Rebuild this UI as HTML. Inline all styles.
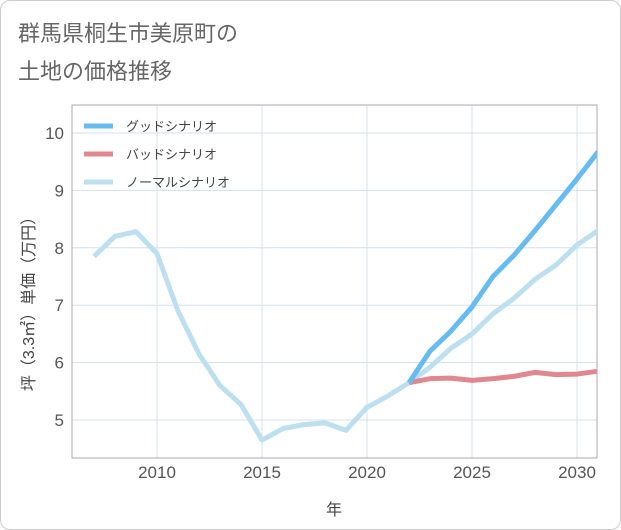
<!DOCTYPE html>
<html><head><meta charset="utf-8"><style>
body{margin:0;background:#fff;}
#card{position:absolute;left:0;top:0;width:619px;height:528px;border:1px solid #ccc;border-radius:10px;background:#fff;}
.t{position:absolute;left:18px;font:22px "Liberation Sans","Noto Sans CJK JP",sans-serif;color:#666;}
svg{position:absolute;left:0;top:0;}
text{font-family:"Liberation Sans","Noto Sans CJK JP",sans-serif;}
</style></head><body>
<div id="card"></div>
<div class="t" style="top:16px">群馬県桐生市美原町の</div>
<div class="t" style="top:54px">土地の価格推移</div>
<svg id="c" width="621" height="530"><defs><clipPath id="pc"><rect x="72" y="105" width="525" height="353"/></clipPath></defs></svg>
<script>
const years=[2007,2008,2009,2010,2011,2012,2013,2014,2015,2016,2017,2018,2019,2020,2021,2022,2023,2024,2025,2026,2027,2028,2029,2030,2031];
const normal=[7.85,8.2,8.28,7.9,6.9,6.15,5.6,5.27,4.65,4.85,4.92,4.95,4.82,5.22,5.42,5.65,5.92,6.25,6.5,6.85,7.12,7.45,7.7,8.05,8.3];
const futureYears=[2022,2023,2024,2025,2026,2027,2028,2029,2030,2031];
const good=[5.65,6.2,6.55,6.97,7.5,7.87,8.3,8.75,9.2,9.67];
const bad=[5.65,5.72,5.73,5.69,5.72,5.76,5.83,5.79,5.8,5.85];
const xTicks=[2010,2015,2020,2025,2030];
const yTicks=[5,6,7,8,9,10];
const L=72,R=597,T=105,B=458;
const x=v=>157+(v-2010)*21;
const y=v=>420-(v-5)*57.4;
const s=document.getElementById('c');const ns='http://www.w3.org/2000/svg';
function mk(t,a,p){const e=document.createElementNS(ns,t);for(const k in a)e.setAttribute(k,a[k]);(p||s).appendChild(e);return e;}
xTicks.forEach(t=>{const l=mk('line',{x1:x(t),x2:x(t),y1:T,y2:B,stroke:'#d5e0ea'});
const tx=mk('text',{x:x(t),y:478,'text-anchor':'middle','font-size':17,fill:'#555'});tx.textContent=t;});
yTicks.forEach(t=>{const l=mk('line',{x1:L,x2:R,y1:y(t),y2:y(t),stroke:'#d5e0ea'});
const tx=mk('text',{x:64,y:y(t)+6,'text-anchor':'end','font-size':17,fill:'#555'});tx.textContent=t;});
const fr=mk('rect',{x:L,y:T,width:R-L,height:B-T,fill:'none',stroke:'#aab'});
function line(xs,vs,c,n){const p=mk('polyline',{points:xs.map((v,i)=>x(v)+','+y(vs[i])).join(' '),fill:'none',stroke:c,'stroke-width':5,'stroke-linejoin':'round','clip-path':'url(#pc)'});}
line(years,normal,'#bde0f0','normal-scenario-line');
line(futureYears,bad,'#e0878f','bad-scenario-line');
line(futureYears,good,'#66bbf0','good-scenario-line');
const leg=[['グッドシナリオ','#66bbf0',126],['バッドシナリオ','#e0878f',154],['ノーマルシナリオ','#bde0f0',182]];
leg.forEach((g,i)=>{const l=mk('line',{x1:84,x2:113,y1:g[2],y2:g[2],stroke:g[1],'stroke-width':5});
const t=mk('text',{x:126,y:g[2]+5,'font-size':13,fill:'#444'});t.textContent=g[0];});
const xt=mk('text',{x:334,y:515,'text-anchor':'middle','font-size':16,fill:'#444'});xt.textContent='年';
const yt=mk('text',{x:0,y:0,'text-anchor':'middle','font-size':16,fill:'#444',transform:'translate(34,300) rotate(-90)'});yt.textContent='坪（3.3㎡）単価（万円）';
</script></body></html>
